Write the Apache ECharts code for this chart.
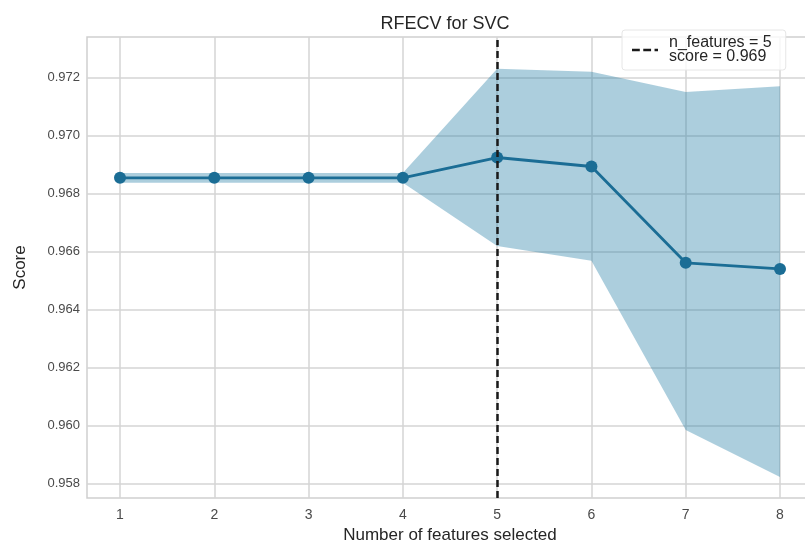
<!DOCTYPE html>
<html>
<head>
<meta charset="utf-8">
<script src="https://cdn.jsdelivr.net/npm/echarts@6/dist/echarts.min.js"></script>
<style>
  html, body { margin: 0; padding: 0; background: #ffffff; }
  #chart { width: 805px; height: 548px; }
</style>
</head>
<body>
<div id="chart"></div>
<script>
// ---- data ----
const features = [1, 2, 3, 4, 5, 6, 7, 8];
const scores = [0.96854, 0.96854, 0.96854, 0.96854, 0.96924, 0.96893, 0.96561, 0.96540];
const upperBand = [0.96871, 0.96871, 0.96871, 0.96871, 0.97230, 0.97220, 0.97150, 0.97170];
const lowerBand = [0.96837, 0.96837, 0.96837, 0.96837, 0.96619, 0.96568, 0.95985, 0.95823];
const xTicks = [1, 2, 3, 4, 5, 6, 7, 8];
const yTicks = [0.958, 0.960, 0.962, 0.964, 0.966, 0.968, 0.970, 0.972];
const bestN = 5;
const bestScore = 0.969;
const titleText = 'RFECV for SVC';
const xName = 'Number of features selected';
const yName = 'Score';

// ---- build chart ----
const lineColor = '#1b6d95';
const legendName = 'n_features = ' + bestN + '\nscore = ' + bestScore.toFixed(3);

const bandData = features.map((f, i) => [f, upperBand[i], lowerBand[i]]);
const scoreData = features.map((f, i) => [f, scores[i]]);

const chart = echarts.init(document.getElementById('chart'), null, { renderer: 'canvas' });
const fontFam = '"Liberation Sans", Arial, sans-serif';

function renderBand(params, api) {
  if (params.dataIndex !== 0) return null;
  const pts = [];
  for (let i = 0; i < bandData.length; i++) pts.push(api.coord([bandData[i][0], bandData[i][1]]));
  for (let i = bandData.length - 1; i >= 0; i--) pts.push(api.coord([bandData[i][0], bandData[i][2]]));
  const cs = params.coordSys;
  return {
    type: 'polygon',
    shape: { points: pts },
    style: { fill: 'rgba(30,122,162,0.37)' },
    clipPath: { type: 'rect', shape: { x: cs.x, y: cs.y, width: cs.width, height: cs.height } }
  };
}

chart.setOption({
  animation: false,
  backgroundColor: '#ffffff',
  title: {
    text: titleText,
    left: 440, textAlign: 'center',
    top: 10,
    textStyle: { fontFamily: fontFam, fontSize: 18, fontWeight: 'normal', color: '#262626' }
  },
  legend: {
    data: [{ name: legendName, icon: 'path://M0,0h9v3h-9z M13,0h9v3h-9z M26,0h4v3h-4z' }],
    left: 622, top: 30,
    itemWidth: 26, itemHeight: 3,
    backgroundColor: 'rgba(255,255,255,0.8)',
    borderColor: '#e6e6e6', borderWidth: 1, borderRadius: 3,
    padding: [5, 14, 5, 10],
    textStyle: { fontFamily: fontFam, fontSize: 16, color: '#262626', lineHeight: 14, padding: [0, 0, 0, 6] }
  },
  grid: {
    left: 87, top: 37, width: 726, height: 461,
    outerBoundsMode: 'none',
    show: true, borderColor: '#cfcfcf', borderWidth: 1.5, backgroundColor: 'transparent',
    containLabel: false
  },
  xAxis: {
    type: 'value', min: 0.65, max: 8.35,
    name: xName, nameLocation: 'middle', nameGap: 28,
    nameTextStyle: { fontFamily: fontFam, fontSize: 17, color: '#262626' },
    axisLine: { show: false },
    axisTick: { show: false, customValues: xTicks },
    axisLabel: { customValues: xTicks, margin: 10, fontFamily: fontFam, fontSize: 14, color: '#4a4a4a' },
    splitLine: { show: true, lineStyle: { color: '#d4d4d4', width: 1.5 } }
  },
  yAxis: {
    type: 'value', min: 0.957503, max: 0.973394,
    name: yName, nameLocation: 'middle', nameGap: 58,
    nameTextStyle: { fontFamily: fontFam, fontSize: 17, color: '#262626' },
    axisLine: { show: false },
    axisTick: { show: false, customValues: yTicks },
    axisLabel: { customValues: yTicks, margin: 7, fontFamily: fontFam, fontSize: 13, color: '#4a4a4a',
      formatter: v => v.toFixed(3) },
    splitLine: { show: true, lineStyle: { color: '#d4d4d4', width: 1.5 } }
  },
  series: [
    {
      name: 'band', type: 'custom', data: bandData,
      encode: { x: 0, y: [1, 2] },
      renderItem: renderBand, silent: true, z: 1
    },
    {
      name: 'score', type: 'line', data: scoreData,
      symbol: 'circle', symbolSize: 12,
      lineStyle: { color: lineColor, width: 2.8 },
      itemStyle: { color: lineColor },
      z: 3
    },
    {
      name: legendName, type: 'line', data: [],
      itemStyle: { color: '#1a1a1a' },
      lineStyle: { color: '#1a1a1a', width: 2.5, type: [7, 4] },
      markLine: {
        silent: true, symbol: 'none', label: { show: false },
        lineStyle: { color: '#1a1a1a', width: 2.5, type: [7, 4] },
        data: [{ xAxis: bestN }]
      },
      z: 4
    }
  ]
});
</script>
</body>
</html>
